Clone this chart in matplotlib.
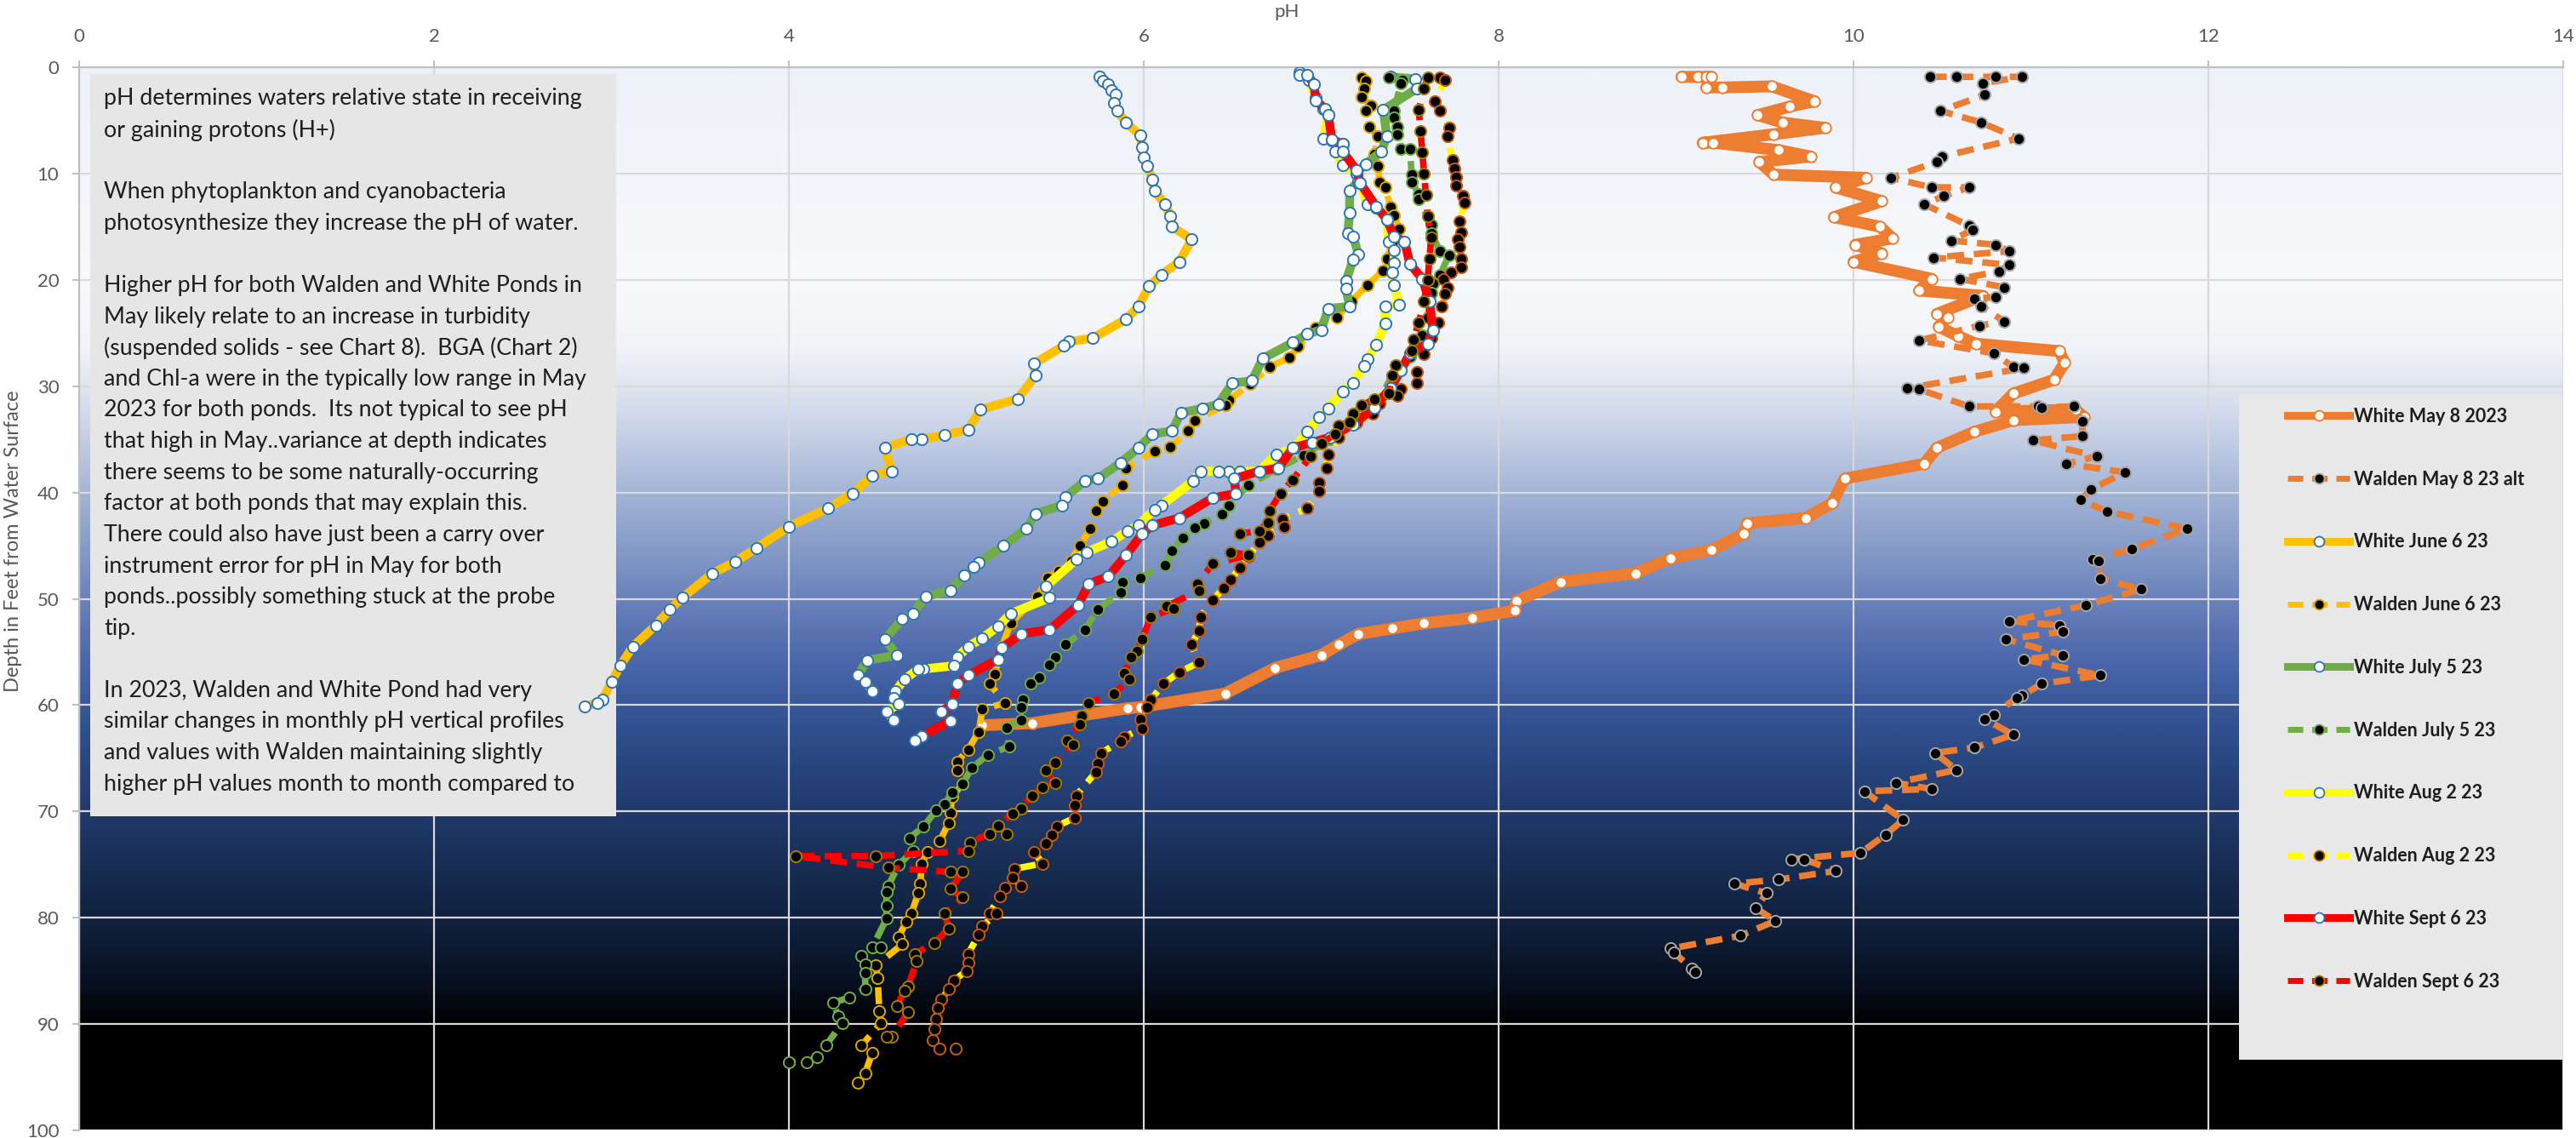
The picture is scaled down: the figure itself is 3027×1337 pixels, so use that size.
import numpy as np
import matplotlib
matplotlib.use("Agg")
import matplotlib.pyplot as plt
from matplotlib.colors import LinearSegmentedColormap
from matplotlib.lines import Line2D
from matplotlib.patches import Rectangle

# ---------------- data: pH vs depth (ft) profiles, 2023 ----------------
white_may_ph = [9.03, 9.12, 9.17, 9.2, 9.17, 9.26, 9.54, 9.78, 9.64, 9.46, 9.6, 9.84, 9.55, 9.15, 9.21,
                9.58, 9.76, 9.47, 9.55, 10.07, 9.9, 10.16, 9.89, 10.15, 10.22, 10.01, 10.16, 10.0, 10.44,
                10.37, 10.73, 10.47, 10.53, 10.48, 10.59, 10.69, 11.16, 11.19, 11.13, 10.9, 10.8, 11.25,
                11.3, 10.9, 10.68, 10.47, 10.4, 9.95, 9.88, 9.73, 9.4, 9.38, 9.2, 8.97, 8.77, 8.35, 8.1,
                8.09, 7.85, 7.58, 7.4, 7.21, 7.1, 7.0, 6.74, 6.46, 5.98, 5.91, 5.37, 5.09]
white_may_depth = [0.9, 0.9, 0.9, 0.9, 1.9, 1.9, 1.8, 3.2, 3.7, 4.5, 5.2, 5.7, 6.3, 7.1, 7.1,
                   7.8, 8.4, 8.9, 10.1, 10.4, 11.3, 12.6, 14.1, 15.0, 16.1, 16.7, 17.5, 18.3, 19.9,
                   21.0, 21.5, 23.2, 23.5, 24.4, 25.3, 26.0, 26.7, 27.8, 29.4, 30.7, 32.4, 32.2,
                   32.9, 33.2, 34.3, 35.8, 37.3, 38.7, 41.0, 42.4, 42.9, 43.9, 45.4, 46.2, 47.6, 48.4, 50.2,
                   51.1, 51.8, 52.3, 52.8, 53.3, 54.3, 55.3, 56.5, 58.9, 60.2, 60.3, 61.7, 61.9]

walden_may_ph = [10.43, 10.58, 10.8, 10.95, 10.73, 10.74, 10.49, 10.72, 10.93, 10.5, 10.47, 10.21, 10.44,
                 10.65, 10.51, 10.4, 10.65, 10.67, 10.55, 10.8, 10.88, 10.45, 10.88, 10.82, 10.6, 10.85,
                 10.8, 10.68, 10.72, 10.85, 10.71, 10.37, 10.79, 10.9, 10.96, 10.3, 10.37, 10.65, 11.04,
                 11.06, 11.24, 11.29, 11.29, 11.01, 11.37, 11.2, 11.53, 11.34, 11.28, 11.43, 11.88, 11.57,
                 11.35, 11.38, 11.39, 11.62, 11.31, 10.88, 11.16, 11.18, 10.86, 11.18, 10.96, 11.39, 11.06,
                 10.95, 10.92, 10.79, 10.74, 10.9, 10.68, 10.46, 10.58, 10.24, 10.44, 10.06, 10.28, 10.18,
                 10.04, 9.65, 9.72, 9.9, 9.58, 9.33, 9.51, 9.45, 9.56, 9.36, 8.97, 8.99, 9.09, 9.11]
walden_may_depth = [0.9, 0.9, 0.9, 0.9, 1.5, 2.6, 4.1, 5.2, 6.7, 8.4, 8.9, 10.4, 11.3,
                    11.3, 12.1, 12.9, 14.9, 15.3, 16.3, 16.7, 17.3, 17.9, 18.6, 19.2, 19.9, 20.7,
                    21.6, 21.8, 22.5, 23.9, 24.3, 25.7, 26.9, 28.2, 28.3, 30.2, 30.3, 31.9, 31.9,
                    32.0, 31.9, 33.3, 34.7, 35.1, 36.6, 37.3, 38.1, 39.7, 40.7, 41.8, 43.4, 45.3,
                    46.3, 46.4, 48.1, 49.1, 50.6, 52.1, 52.5, 53.1, 53.8, 55.3, 55.7, 57.2, 58.0,
                    59.1, 59.3, 60.9, 61.3, 62.8, 64.0, 64.5, 66.1, 67.3, 67.9, 68.1, 70.8, 72.2,
                    73.9, 74.5, 74.5, 75.6, 76.4, 76.8, 77.7, 79.1, 80.3, 81.7, 82.9, 83.3, 84.8, 85.1]

white_june_ph = [5.75, 5.77, 5.8, 5.82, 5.84, 5.83, 5.85, 5.9, 5.98, 5.99, 6.0, 6.02, 6.05, 6.06, 6.12,
                 6.15, 6.16, 6.27, 6.2, 6.1, 6.03, 5.97, 5.9, 5.71, 5.58, 5.55, 5.38, 5.39, 5.29, 5.08,
                 5.01, 4.88, 4.75, 4.69, 4.54, 4.58, 4.47, 4.36, 4.22, 4.0, 3.82, 3.7, 3.57, 3.4, 3.33,
                 3.25, 3.12, 3.05, 3.0, 2.95, 2.92, 2.85]
white_june_depth = [0.9, 1.3, 1.6, 2.2, 2.6, 3.4, 4.1, 5.2, 6.4, 7.5, 8.5, 9.3, 10.6, 11.6, 12.9,
                    14.0, 15.0, 16.2, 18.3, 19.5, 20.6, 22.5, 23.7, 25.5, 25.8, 26.2, 27.9, 29.0, 31.2, 32.2,
                    34.1, 34.6, 35.0, 35.0, 35.8, 38.0, 38.4, 40.1, 41.5, 43.2, 45.2, 46.5, 47.6, 49.9, 51.0,
                    52.5, 54.5, 56.3, 57.8, 59.5, 59.8, 60.1]

walden_june_ph = [7.23, 7.25, 7.24, 7.23, 7.28, 7.25, 7.27, 7.32, 7.3, 7.32, 7.33, 7.36, 7.39, 7.41, 7.44,
                  7.4, 7.37, 7.35, 7.26, 7.17, 7.09, 6.97, 6.87, 6.82, 6.71, 6.6, 6.48, 6.46, 6.29, 6.25,
                  6.15, 6.06, 5.9, 5.88, 5.77, 5.73, 5.7, 5.64, 5.59, 5.52, 5.46, 5.4, 5.25, 5.2, 5.16,
                  5.13, 5.22, 5.09, 5.07, 5.01, 4.95, 4.95, 4.98, 4.92, 4.91, 4.9, 4.85, 4.78, 4.75, 4.74,
                  4.73, 4.69, 4.66, 4.62, 4.64, 4.49, 4.5, 4.51, 4.52, 4.41, 4.47, 4.43, 4.39]
walden_june_depth = [1.0, 1.3, 2.0, 2.8, 3.6, 4.1, 5.6, 6.5, 8.2, 9.3, 10.8, 11.3, 13.1, 13.9, 15.2,
                     16.5, 18.0, 19.1, 20.5, 22.0, 23.5, 24.5, 26.3, 27.3, 28.2, 29.8, 31.3, 31.8, 33.2, 34.2,
                     35.7, 36.1, 37.7, 39.3, 40.8, 41.7, 43.4, 45.0, 46.4, 47.4, 48.0, 49.8, 52.3, 54.5, 57.1,
                     58.0, 59.8, 60.4, 62.5, 64.2, 65.3, 66.1, 67.4, 68.6, 70.1, 71.1, 72.8, 73.8, 74.9, 76.8,
                     77.7, 79.6, 80.4, 81.8, 82.5, 84.5, 85.7, 88.8, 89.9, 92.0, 92.7, 94.6, 95.5]

white_july_ph = [7.39, 7.53, 7.54, 7.35, 7.37, 7.34, 7.25, 7.2, 7.21, 7.16, 7.16, 7.15, 7.18, 7.21, 7.18,
                 7.14, 7.14, 7.16, 7.04, 7.0, 6.92, 6.84, 6.67, 6.61, 6.5, 6.42, 6.33, 6.21, 6.16, 6.05,
                 5.97, 5.87, 5.74, 5.67, 5.56, 5.54, 5.39, 5.34, 5.21, 5.07, 5.04, 4.99, 4.91, 4.77, 4.7,
                 4.64, 4.54, 4.61, 4.44, 4.39, 4.43, 4.47]
white_july_depth = [0.9, 1.1, 2.0, 4.0, 6.5, 7.9, 9.1, 10.0, 10.7, 11.6, 13.7, 15.6, 15.9, 17.6, 18.1,
                    20.1, 20.8, 22.5, 22.7, 24.7, 25.1, 25.9, 27.4, 29.5, 29.7, 31.7, 32.1, 32.5, 34.2, 34.5,
                    35.8, 37.2, 38.7, 38.9, 40.4, 41.2, 42.0, 43.4, 45.0, 46.6, 47.0, 47.8, 49.2, 49.8, 51.4,
                    51.9, 53.8, 55.3, 55.8, 57.2, 57.8, 58.7]

walden_july_ph = [7.38, 7.46, 7.45, 7.41, 7.41, 7.43, 7.43, 7.45, 7.5, 7.51, 7.51, 7.55, 7.55, 7.62, 7.62,
                  7.67, 7.72, 7.67, 7.63, 7.62, 7.6, 7.57, 7.5, 7.4, 7.3, 7.2, 7.05, 6.9, 6.75, 6.59,
                  6.48, 6.44, 6.34, 6.29, 6.22, 6.16, 6.12, 5.98, 5.88, 5.87, 5.74, 5.67, 5.56, 5.5, 5.47,
                  5.41, 5.36, 5.32, 5.31, 5.31, 5.23, 5.24, 5.12, 5.03, 4.98, 4.92, 4.88, 4.83, 4.76, 4.68,
                  4.7, 4.62, 4.56, 4.55, 4.55, 4.55, 4.47, 4.52, 4.41, 4.43, 4.43, 4.43, 4.34, 4.25, 4.28,
                  4.3, 4.21, 4.16, 4.1, 4.0]
walden_july_depth = [1.0, 1.2, 1.5, 4.1, 4.7, 5.6, 6.3, 7.7, 7.7, 10.1, 10.8, 11.9, 12.4, 14.8, 15.6,
                     17.3, 17.7, 19.5, 20.3, 21.2, 23.5, 25.2, 27.2, 29.0, 32.1, 33.5, 35.0, 36.5, 37.8, 39.3,
                     41.2, 42.0, 42.9, 43.3, 44.3, 45.5, 46.8, 48.0, 48.4, 49.4, 51.0, 52.9, 54.3, 55.5, 56.2,
                     57.4, 58.0, 59.5, 60.2, 61.4, 62.1, 63.9, 64.7, 65.9, 67.4, 68.2, 69.3, 69.9, 71.4, 72.5,
                     73.7, 75.0, 77.0, 77.6, 78.9, 80.1, 82.8, 82.8, 83.6, 84.4, 85.2, 86.7, 87.5, 88.0, 89.3,
                     89.9, 92.0, 93.1, 93.6, 93.6]

white_aug_ph = [6.88, 6.93, 6.97, 7.01, 7.04, 7.01, 7.06, 7.12, 7.08, 7.12, 7.2, 7.22, 7.26, 7.31, 7.37,
                7.38, 7.41, 7.41, 7.4, 7.41, 7.44, 7.36, 7.36, 7.31, 7.26, 7.24, 7.18, 7.12, 7.04, 6.99,
                6.92, 6.85, 6.75, 6.65, 6.54, 6.48, 6.42, 6.32, 6.28, 6.1, 6.06, 5.97, 5.91, 5.82, 5.68,
                5.62, 5.45, 5.47, 5.25, 5.18, 5.09, 5.01, 4.95, 4.93, 4.76, 4.73, 4.65, 4.6, 4.59, 4.62,
                4.55, 4.59]
white_aug_depth = [0.5, 1.2, 2.9, 3.9, 4.5, 6.7, 6.9, 7.2, 7.9, 9.2, 10.0, 10.9, 12.9, 13.2, 14.3,
                   16.4, 17.2, 18.4, 19.3, 20.5, 22.3, 22.5, 24.1, 26.1, 27.5, 28.1, 29.7, 30.5, 32.1, 32.9,
                   34.3, 35.8, 36.4, 38.0, 38.0, 38.0, 38.0, 38.0, 38.9, 41.2, 41.6, 43.1, 43.6, 44.6, 45.6,
                   46.3, 48.8, 49.9, 51.4, 52.6, 53.7, 54.5, 55.5, 56.3, 56.6, 56.6, 57.6, 58.7, 59.3, 59.9,
                   60.6, 61.4]

walden_aug_ph = [7.67, 7.7, 7.64, 7.67, 7.72, 7.71, 7.74, 7.75, 7.76, 7.76, 7.8, 7.81, 7.78, 7.79, 7.77,
                 7.78, 7.79, 7.79, 7.73, 7.69, 7.71, 7.7, 7.68, 7.66, 7.62, 7.58, 7.54, 7.54, 7.45, 7.43,
                 7.33, 7.29, 7.2, 7.1, 7.04, 7.03, 6.99, 6.99, 6.92, 6.78, 6.79, 6.7, 6.65, 6.59, 6.54,
                 6.49, 6.45, 6.39, 6.32, 6.31, 6.27, 6.31, 6.2, 6.11, 6.04, 6.02, 5.98, 5.99, 5.89, 5.87,
                 5.76, 5.74, 5.73, 5.62, 5.61, 5.61, 5.51, 5.48, 5.45, 5.38, 5.43, 5.27, 5.26, 5.31, 5.22,
                 5.19, 5.13, 5.17, 5.09, 5.07, 5.01, 5.01, 5.0, 4.93, 4.9, 4.86, 4.84, 4.83, 4.82, 4.81,
                 4.85, 4.94]
walden_aug_depth = [1.0, 1.2, 3.2, 4.1, 5.7, 6.5, 8.7, 9.5, 10.3, 11.1, 12.1, 12.7, 14.5, 15.5, 16.2,
                    16.9, 18.0, 18.8, 19.3, 19.9, 20.7, 21.3, 22.5, 24.0, 25.5, 27.0, 28.7, 29.7, 30.3, 30.9,
                    31.6, 32.6, 33.4, 34.8, 36.4, 37.7, 39.1, 39.9, 41.5, 42.5, 43.2, 44.0, 44.7, 46.0, 47.1,
                    48.2, 49.0, 50.1, 51.7, 53.0, 54.3, 56.0, 56.9, 58.0, 59.5, 60.2, 61.3, 62.2, 63.0, 63.4,
                    64.5, 65.5, 66.3, 68.5, 69.4, 70.6, 71.4, 72.2, 73.0, 73.8, 74.9, 75.4, 76.2, 77.0, 77.2,
                    78.0, 79.6, 79.6, 80.8, 81.6, 83.4, 84.2, 85.0, 85.9, 86.7, 87.7, 88.5, 89.5, 90.5, 91.5,
                    92.3, 92.3]

white_sept_ph = [6.88, 6.92, 6.96, 6.97, 7.02, 7.04, 7.06, 7.12, 7.12, 7.2, 7.22, 7.31, 7.37, 7.41, 7.47,
                 7.5, 7.57, 7.61, 7.63, 7.6, 7.5, 7.45, 7.39, 7.3, 7.18, 7.05, 6.95, 6.84, 6.76, 6.65,
                 6.51, 6.52, 6.39, 6.2, 6.05, 5.99, 5.9, 5.8, 5.69, 5.63, 5.47, 5.31, 5.2, 5.18, 5.01,
                 4.95, 4.92, 4.86, 4.91, 4.75, 4.71]
white_sept_depth = [0.7, 0.7, 1.6, 3.1, 3.9, 4.5, 6.8, 7.2, 7.9, 9.7, 10.9, 13.1, 14.3, 15.9, 16.4,
                    18.5, 19.9, 22.0, 24.7, 26.0, 26.9, 28.5, 30.2, 32.0, 33.6, 34.8, 35.3, 35.8, 37.7, 38.0,
                    38.7, 40.1, 40.5, 42.4, 43.1, 43.9, 45.9, 47.9, 48.6, 50.6, 52.9, 53.3, 54.6, 55.7, 57.2,
                    58.0, 59.9, 60.6, 61.5, 62.9, 63.3]

walden_sept_ph = [7.6, 7.58, 7.55, 7.56, 7.57, 7.58, 7.59, 7.6, 7.62, 7.61, 7.6, 7.58, 7.55, 7.52, 7.51,
                  7.42, 7.4, 7.38, 7.3, 7.23, 7.18, 7.16, 7.1, 7.08, 7.0, 6.94, 6.84, 6.77, 6.71, 6.7,
                  6.65, 6.54, 6.49, 6.59, 6.39, 6.3, 6.31, 6.13, 6.17, 6.04, 5.99, 5.96, 5.93, 5.89, 5.92,
                  5.83, 5.69, 5.65, 5.64, 5.57, 5.6, 5.5, 5.45, 5.5, 5.43, 5.37, 5.31, 5.26, 5.18, 5.23,
                  5.13, 5.02, 5.01, 4.49, 4.04, 4.56, 4.91, 4.98, 4.91, 4.98, 4.88, 4.9, 4.82, 4.71, 4.72,
                  4.67, 4.65, 4.61, 4.67, 4.58, 4.55]
walden_sept_depth = [1.0, 2.0, 4.0, 6.0, 8.0, 10.0, 12.0, 14.0, 16.0, 18.0, 20.0, 22.0, 24.0, 25.6, 26.7,
                     28.0, 29.0, 30.7, 31.2, 31.8, 32.6, 33.4, 33.7, 34.5, 35.4, 36.6, 38.8, 40.1, 41.7, 42.8,
                     43.6, 43.9, 45.6, 45.9, 46.7, 48.6, 49.2, 50.7, 50.9, 51.7, 53.8, 54.9, 55.5, 57.0, 57.6,
                     58.9, 59.8, 61.0, 61.8, 63.3, 63.7, 65.4, 66.1, 67.3, 67.7, 68.5, 69.7, 70.2, 71.3, 72.1,
                     72.1, 72.9, 73.7, 74.2, 74.2, 75.3, 75.7, 75.7, 77.3, 78.1, 79.6, 81.0, 82.4, 83.4, 84.1,
                     86.5, 86.9, 88.3, 88.9, 91.2, 91.2]

series_labels = ["White May 8 2023", "Walden May 8 23 alt", "White June 6 23", "Walden June 6 23",
                 "White July 5 23", "Walden July 5 23", "White Aug 2 23", "Walden Aug 2 23",
                 "White Sept 6 23", "Walden Sept 6 23"]

x_ticks = [0, 2, 4, 6, 8, 10, 12, 14]
y_ticks = [0, 10, 20, 30, 40, 50, 60, 70, 80, 90, 100]

note_lines = [
    "pH determines waters relative state in receiving",
    "or gaining protons (H+)",
    "",
    "When phytoplankton and cyanobacteria",
    "photosynthesize they increase the pH of water.",
    "",
    "Higher pH for both Walden and White Ponds in",
    "May likely relate to an increase in turbidity",
    "(suspended solids - see Chart 8).  BGA (Chart 2)",
    "and Chl-a were in the typically low range in May",
    "2023 for both ponds.  Its not typical to see pH",
    "that high in May..variance at depth indicates",
    "there seems to be some naturally-occurring",
    "factor at both ponds that may explain this.",
    "There could also have just been a carry over",
    "instrument error for pH in May for both",
    "ponds..possibly something stuck at the probe",
    "tip.",
    "",
    "In 2023, Walden and White Pond had very",
    "similar changes in monthly pH vertical profiles",
    "and values with Walden maintaining slightly",
    "higher pH values month to month compared to",
]

# ---------------- styling ----------------
FONT = "Lato"
W, H = 3027, 1337
L, R, T, B = 93, 3012, 79, 1328          # plot-area pixel bounds

fig = plt.figure(figsize=(W / 100, H / 100), dpi=100)
ax = fig.add_axes([L / W, 1 - B / H, (R - L) / W, (B - T) / H])

# depth-shaded water background
stops = [(0, "#edf1f8"), (20, "#f8f9fc"), (26, "#f2f4f9"), (30, "#dfe5f0"), (35, "#c3cee4"),
         (40, "#a3b4d6"), (46, "#8197c6"), (52, "#5f78b6"), (57, "#4563a6"), (62, "#30508f"),
         (68, "#233f74"), (74, "#1a3059"), (80, "#112240"), (85, "#0a1428"), (89, "#03060c"),
         (90.5, "#000000"), (100, "#000000")]
cmap = LinearSegmentedColormap.from_list("water", [(d / 100, c) for d, c in stops])
grad = np.linspace(0, 1, 1000).reshape(-1, 1)
ax.imshow(grad, cmap=cmap, extent=(0, 14, 100, 0), aspect="auto", zorder=0,
          interpolation="bilinear", vmin=0, vmax=1)

ax.set_xlim(0, 14)
ax.set_ylim(100, 0)
ax.set_xticks(x_ticks)
ax.set_yticks(y_ticks)
ax.xaxis.tick_top()
ax.set_axisbelow(True)
ax.grid(True, color="#d9d9d9", linewidth=1.6, zorder=0.5)
for side in ("right", "bottom"):
    ax.spines[side].set_visible(False)
for side in ("top", "left"):
    ax.spines[side].set_color("#bfbfbf")
    ax.spines[side].set_linewidth(1.6)
ax.tick_params(axis="both", colors="#bfbfbf", length=6, width=1.4, labelcolor="#595959",
               labelsize=16)
ax.tick_params(axis="x", pad=13)
ax.tick_params(axis="y", pad=11)
for lab in ax.get_xticklabels() + ax.get_yticklabels():
    lab.set_fontfamily(FONT)

fig.text(1512 / W, 1 - 14 / H, "pH", ha="center", va="center", fontsize=16,
         color="#595959", family=FONT)
fig.text(16 / W, 1 - 636 / H, "Depth in Feet from Water Surface", ha="center", va="center",
         rotation=90, fontsize=17, color="#595959", family=FONT)

# annotation panel
def ax_x(px):
    return (px - L) / (R - L)

def ax_y(py):
    return 1 - (py - T) / (B - T)

ax.add_patch(Rectangle((ax_x(106), ax_y(959)), ax_x(724) - ax_x(106), ax_y(87) - ax_y(959),
                       transform=ax.transAxes, facecolor="#e6e6e6", edgecolor="none", zorder=1))
for i, line in enumerate(note_lines):
    if line:
        ax.text(ax_x(122), ax_y(116 + i * 36.6), line, transform=ax.transAxes, ha="left",
                va="center", fontsize=19.3, color="#1e1e1e", family=FONT, zorder=1.2)

# profile series
white_edge = "#2e75b6"
dash = (0, (2.6, 1.5))
styles = [
    dict(color="#ed7d31", ls="-", lw=10, mfc="white", mec="#ed7d31", ms=9),
    dict(color="#ed7d31", ls=dash, lw=5.5, mfc="black", mec="#a6a6a6", ms=9.5),
    dict(color="#ffc000", ls="-", lw=7.5, mfc="white", mec=white_edge, ms=9.5),
    dict(color="#ffc000", ls=dash, lw=5.5, mfc="black", mec="#d9a400", ms=9.5),
    dict(color="#70ad47", ls="-", lw=7.5, mfc="white", mec=white_edge, ms=9.5),
    dict(color="#70ad47", ls=dash, lw=5.5, mfc="black", mec="#70ad47", ms=9.5),
    dict(color="#ffff00", ls="-", lw=7.5, mfc="white", mec=white_edge, ms=9.5),
    dict(color="#ffff00", ls=dash, lw=5.5, mfc="black", mec="#c55a11", ms=9.5),
    dict(color="#ff0000", ls="-", lw=7.5, mfc="white", mec=white_edge, ms=9.5),
    dict(color="#ff0000", ls=dash, lw=5.5, mfc="black", mec="#a07c00", ms=9.5),
]
data = [
    (white_may_ph, white_may_depth), (walden_may_ph, walden_may_depth),
    (white_june_ph, white_june_depth), (walden_june_ph, walden_june_depth),
    (white_july_ph, white_july_depth), (walden_july_ph, walden_july_depth),
    (white_aug_ph, white_aug_depth), (walden_aug_ph, walden_aug_depth),
    (white_sept_ph, white_sept_depth), (walden_sept_ph, walden_sept_depth),
]
handles = []
for k, ((ph, depth), st, lab) in enumerate(zip(data, styles, series_labels)):
    ax.plot(ph, depth, color=st["color"], linestyle=st["ls"], linewidth=st["lw"],
            marker="o", markersize=st["ms"], markerfacecolor=st["mfc"],
            markeredgecolor=st["mec"], markeredgewidth=1.4, zorder=3 + k * 0.1,
            solid_capstyle="round", solid_joinstyle="round", dash_capstyle="butt")
    handles.append(Line2D([], [], color=st["color"], linestyle=st["ls"],
                          linewidth=6.5 if st["ls"] == "-" else 5.0,
                          marker="o", markersize=8.5, markerfacecolor=st["mfc"],
                          markeredgecolor=st["mec"], markeredgewidth=1.3))

# legend panel
ax.add_patch(Rectangle((ax_x(2631), ax_y(1245)), ax_x(3011) - ax_x(2631), ax_y(463) - ax_y(1245),
                       transform=ax.transAxes, facecolor="#e8e8e8", edgecolor="none", zorder=5))
leg = ax.legend(handles=handles, labels=series_labels, loc="upper left",
                bbox_to_anchor=(ax_x(2688), ax_y(479)), frameon=False, borderaxespad=0,
                borderpad=0, labelspacing=2.45, handlelength=3.4, handletextpad=0.2,
                numpoints=1, prop=dict(family=FONT, size=15.5, weight="bold"))
leg.set_zorder(6)
for txt in leg.get_texts():
    txt.set_color("#1e1e1e")

fig.savefig("out.png", dpi=100)
